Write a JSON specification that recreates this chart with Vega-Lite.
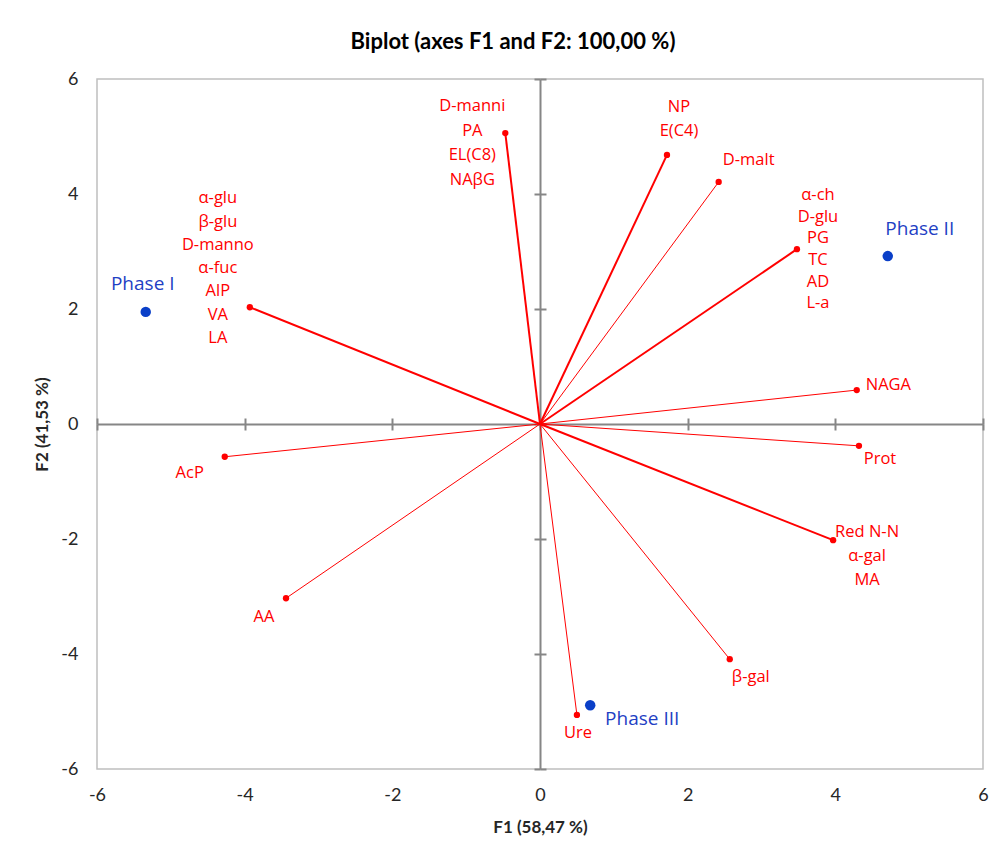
{
  "$schema": "https://vega.github.io/schema/vega-lite/v6.json",
  "width": 886,
  "height": 690,
  "autosize": "none",
  "padding": {"left": 97, "top": 79, "right": 20, "bottom": 87},
  "background": "white",
  "config": {
    "view": {"stroke": "#bfbfbf", "strokeWidth": 1.5},
    "text": {"lineBreak": "\n"}
  },
  "title": {
    "text": "Biplot (axes F1 and F2: 100,00 %)",
    "font": "Lato",
    "fontSize": 22,
    "fontWeight": "bold",
    "color": "#000000",
    "anchor": "middle",
    "dx": -27,
    "offset": 16
  },
  "datasets": {
    "vectors": [
      {"id": "AlP", "label": "α-glu\nβ-glu\nD-manno\nα-fuc\nAlP\nVA\nLA", "F1": -3.93, "F2": 2.03},
      {"id": "PA", "label": "D-manni\nPA\nEL(C8)\nNAβG", "F1": -0.47, "F2": 5.06},
      {"id": "NP", "label": "NP\nE(C4)", "F1": 1.72, "F2": 4.68},
      {"id": "D-malt", "label": "D-malt", "F1": 2.42, "F2": 4.21},
      {"id": "PG", "label": "α-ch\nD-glu\nPG\nTC\nAD\nL-a", "F1": 3.48, "F2": 3.04},
      {"id": "NAGA", "label": "NAGA", "F1": 4.29, "F2": 0.59},
      {"id": "Prot", "label": "Prot", "F1": 4.32, "F2": -0.38},
      {"id": "RedNN", "label": "Red N-N\nα-gal\nMA", "F1": 3.97, "F2": -2.02},
      {"id": "b-gal", "label": "β-gal", "F1": 2.57, "F2": -4.09},
      {"id": "Ure", "label": "Ure", "F1": 0.5, "F2": -5.06},
      {"id": "AA", "label": "AA", "F1": -3.44, "F2": -3.03},
      {"id": "AcP", "label": "AcP", "F1": -4.27, "F2": -0.57}
    ],
    "phases": [
      {"label": "Phase I", "F1": -5.34, "F2": 1.95},
      {"label": "Phase II", "F1": 4.71, "F2": 2.92},
      {"label": "Phase III", "F1": 0.68, "F2": -4.89}
    ]
  },
  "resolve": {"axis": {"x": "independent", "y": "independent"}},
  "layer": [
    {
      "data": {"name": "vectors"},
      "mark": {"type": "rule", "color": "#ff0000"},
      "encoding": {
        "x": {
          "field": "F1", "type": "quantitative",
          "scale": {"domain": [-6, 6], "nice": false, "zero": false},
          "axis": {
            "orient": "bottom", "values": [-6, -4, -2, 0, 2, 4, 6],
            "domain": false, "ticks": false, "grid": false,
            "labelPadding": 17, "labelFont": "Lato", "labelFontSize": 18,
            "labelColor": "#262626", "labelExpr": "datum.value + ''", "labelFlush": false,
            "title": "F1 (58,47 %)", "titleFont": "Lato", "titleFontSize": 17,
            "titleFontWeight": "bold", "titleColor": "#262626", "titlePadding": 15
          }
        },
        "y": {
          "field": "F2", "type": "quantitative",
          "scale": {"domain": [-6, 6], "nice": false, "zero": false},
          "axis": {
            "orient": "left", "values": [-6, -4, -2, 0, 2, 4, 6],
            "domain": false, "ticks": false, "grid": false,
            "labelPadding": 19, "labelFont": "Lato", "labelFontSize": 18,
            "labelColor": "#262626", "labelExpr": "datum.value + ''", "labelFlush": false,
            "title": "F2 (41,53 %)", "titleFont": "Lato", "titleFontSize": 17,
            "titleFontWeight": "bold", "titleColor": "#262626", "titlePadding": 9
          }
        },
        "x2": {"datum": 0},
        "y2": {"datum": 0},
        "strokeWidth": {
          "condition": {"test": "indexof(datum.label, '\\n') >= 0", "value": 2},
          "value": 1
        }
      }
    },
    {
      "data": {"name": "vectors"},
      "mark": {"type": "circle", "color": "#ff0000", "size": 40, "opacity": 1},
      "encoding": {
        "x": {
          "field": "F1", "type": "quantitative",
          "axis": {
            "orient": "bottom", "offset": -345, "values": [-6, -4, -2, 0, 2, 4, 6],
            "labels": false, "domain": true, "domainColor": "#868686", "domainWidth": 2,
            "ticks": true, "tickSize": 6, "tickWidth": 2, "tickColor": "#868686",
            "grid": false, "title": null
          }
        },
        "y": {
          "field": "F2", "type": "quantitative",
          "axis": {
            "orient": "left", "offset": -443, "values": [-6, -4, -2, 0, 2, 4, 6],
            "labels": false, "domain": true, "domainColor": "#868686", "domainWidth": 2,
            "ticks": true, "tickSize": 6, "tickWidth": 2, "tickColor": "#868686",
            "grid": false, "title": null
          }
        }
      }
    },
    {
      "data": {"name": "phases"},
      "mark": {"type": "circle", "color": "#0a3fc8", "size": 110, "opacity": 1},
      "encoding": {
        "x": {
          "field": "F1", "type": "quantitative",
          "axis": {
            "orient": "top", "offset": -345, "values": [-6, -4, -2, 0, 2, 4, 6],
            "labels": false, "domain": false,
            "ticks": true, "tickSize": 6, "tickWidth": 2, "tickColor": "#868686",
            "grid": false, "title": null
          }
        },
        "y": {
          "field": "F2", "type": "quantitative",
          "axis": {
            "orient": "right", "offset": -443, "values": [-6, -4, -2, 0, 2, 4, 6],
            "labels": false, "domain": false,
            "ticks": true, "tickSize": 6, "tickWidth": 2, "tickColor": "#868686",
            "grid": false, "title": null
          }
        }
      }
    },
    {
      "data": {"name": "phases"},
      "transform": [{"filter": "datum.label === 'Phase I'"}],
      "mark": {"type": "text", "font": "Open Sans", "fontSize": 19, "color": "#1f3fc4", "align": "center", "baseline": "middle", "dx": -3, "dy": -28},
      "encoding": {"x": {"field": "F1", "type": "quantitative", "axis": null}, "y": {"field": "F2", "type": "quantitative", "axis": null}, "text": {"field": "label"}}
    },
    {
      "data": {"name": "phases"},
      "transform": [{"filter": "datum.label === 'Phase II'"}],
      "mark": {"type": "text", "font": "Open Sans", "fontSize": 19, "color": "#1f3fc4", "align": "center", "baseline": "middle", "dx": 32, "dy": -27},
      "encoding": {"x": {"field": "F1", "type": "quantitative", "axis": null}, "y": {"field": "F2", "type": "quantitative", "axis": null}, "text": {"field": "label"}}
    },
    {
      "data": {"name": "phases"},
      "transform": [{"filter": "datum.label === 'Phase III'"}],
      "mark": {"type": "text", "font": "Open Sans", "fontSize": 19, "color": "#1f3fc4", "align": "center", "baseline": "middle", "dx": 52, "dy": 14},
      "encoding": {"x": {"field": "F1", "type": "quantitative", "axis": null}, "y": {"field": "F2", "type": "quantitative", "axis": null}, "text": {"field": "label"}}
    },
    {
      "data": {"name": "vectors"},
      "transform": [{"filter": "datum.id === 'AlP'"}],
      "mark": {"type": "text", "font": "Open Sans", "fontSize": 16.5, "color": "#ff0000", "align": "center", "baseline": "middle", "dx": -32, "dy": -109, "lineHeight": 23.3},
      "encoding": {"x": {"field": "F1", "type": "quantitative", "axis": null}, "y": {"field": "F2", "type": "quantitative", "axis": null}, "text": {"field": "label"}}
    },
    {
      "data": {"name": "vectors"},
      "transform": [{"filter": "datum.id === 'PA'"}],
      "mark": {"type": "text", "font": "Open Sans", "fontSize": 16.5, "color": "#ff0000", "align": "center", "baseline": "middle", "dx": -33, "dy": -27, "lineHeight": 24.7},
      "encoding": {"x": {"field": "F1", "type": "quantitative", "axis": null}, "y": {"field": "F2", "type": "quantitative", "axis": null}, "text": {"field": "label"}}
    },
    {
      "data": {"name": "vectors"},
      "transform": [{"filter": "datum.id === 'NP'"}],
      "mark": {"type": "text", "font": "Open Sans", "fontSize": 16.5, "color": "#ff0000", "align": "center", "baseline": "middle", "dx": 12, "dy": -48, "lineHeight": 24},
      "encoding": {"x": {"field": "F1", "type": "quantitative", "axis": null}, "y": {"field": "F2", "type": "quantitative", "axis": null}, "text": {"field": "label"}}
    },
    {
      "data": {"name": "vectors"},
      "transform": [{"filter": "datum.id === 'D-malt'"}],
      "mark": {"type": "text", "font": "Open Sans", "fontSize": 16.5, "color": "#ff0000", "align": "center", "baseline": "middle", "dx": 30, "dy": -22},
      "encoding": {"x": {"field": "F1", "type": "quantitative", "axis": null}, "y": {"field": "F2", "type": "quantitative", "axis": null}, "text": {"field": "label"}}
    },
    {
      "data": {"name": "vectors"},
      "transform": [{"filter": "datum.id === 'PG'"}],
      "mark": {"type": "text", "font": "Open Sans", "fontSize": 16.5, "color": "#ff0000", "align": "center", "baseline": "middle", "dx": 21, "dy": -54, "lineHeight": 21.6},
      "encoding": {"x": {"field": "F1", "type": "quantitative", "axis": null}, "y": {"field": "F2", "type": "quantitative", "axis": null}, "text": {"field": "label"}}
    },
    {
      "data": {"name": "vectors"},
      "transform": [{"filter": "datum.id === 'NAGA'"}],
      "mark": {"type": "text", "font": "Open Sans", "fontSize": 16.5, "color": "#ff0000", "align": "left", "baseline": "middle", "dx": 9, "dy": -5},
      "encoding": {"x": {"field": "F1", "type": "quantitative", "axis": null}, "y": {"field": "F2", "type": "quantitative", "axis": null}, "text": {"field": "label"}}
    },
    {
      "data": {"name": "vectors"},
      "transform": [{"filter": "datum.id === 'Prot'"}],
      "mark": {"type": "text", "font": "Open Sans", "fontSize": 16.5, "color": "#ff0000", "align": "center", "baseline": "middle", "dx": 21, "dy": 13},
      "encoding": {"x": {"field": "F1", "type": "quantitative", "axis": null}, "y": {"field": "F2", "type": "quantitative", "axis": null}, "text": {"field": "label"}}
    },
    {
      "data": {"name": "vectors"},
      "transform": [{"filter": "datum.id === 'RedNN'"}],
      "mark": {"type": "text", "font": "Open Sans", "fontSize": 16.5, "color": "#ff0000", "align": "center", "baseline": "middle", "dx": 34, "dy": -8, "lineHeight": 24},
      "encoding": {"x": {"field": "F1", "type": "quantitative", "axis": null}, "y": {"field": "F2", "type": "quantitative", "axis": null}, "text": {"field": "label"}}
    },
    {
      "data": {"name": "vectors"},
      "transform": [{"filter": "datum.id === 'b-gal'"}],
      "mark": {"type": "text", "font": "Open Sans", "fontSize": 16.5, "color": "#ff0000", "align": "center", "baseline": "middle", "dx": 21, "dy": 18},
      "encoding": {"x": {"field": "F1", "type": "quantitative", "axis": null}, "y": {"field": "F2", "type": "quantitative", "axis": null}, "text": {"field": "label"}}
    },
    {
      "data": {"name": "vectors"},
      "transform": [{"filter": "datum.id === 'Ure'"}],
      "mark": {"type": "text", "font": "Open Sans", "fontSize": 16.5, "color": "#ff0000", "align": "center", "baseline": "middle", "dx": 1, "dy": 18},
      "encoding": {"x": {"field": "F1", "type": "quantitative", "axis": null}, "y": {"field": "F2", "type": "quantitative", "axis": null}, "text": {"field": "label"}}
    },
    {
      "data": {"name": "vectors"},
      "transform": [{"filter": "datum.id === 'AA'"}],
      "mark": {"type": "text", "font": "Open Sans", "fontSize": 16.5, "color": "#ff0000", "align": "center", "baseline": "middle", "dx": -22, "dy": 19},
      "encoding": {"x": {"field": "F1", "type": "quantitative", "axis": null}, "y": {"field": "F2", "type": "quantitative", "axis": null}, "text": {"field": "label"}}
    },
    {
      "data": {"name": "vectors"},
      "transform": [{"filter": "datum.id === 'AcP'"}],
      "mark": {"type": "text", "font": "Open Sans", "fontSize": 16.5, "color": "#ff0000", "align": "center", "baseline": "middle", "dx": -35, "dy": 16},
      "encoding": {"x": {"field": "F1", "type": "quantitative", "axis": null}, "y": {"field": "F2", "type": "quantitative", "axis": null}, "text": {"field": "label"}}
    }
  ]
}
